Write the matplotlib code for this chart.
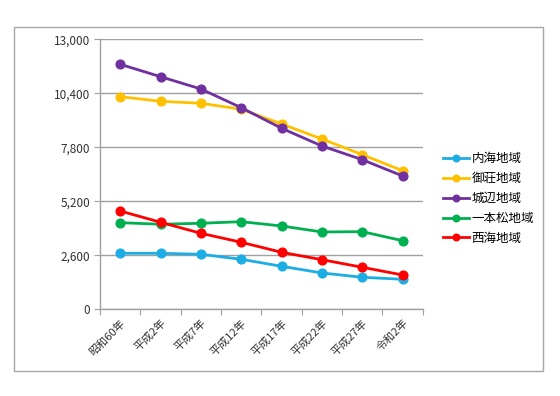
import matplotlib.pyplot as plt
from matplotlib.patches import Rectangle

plt.rcParams['font.family'] = ['Noto Sans CJK JP', 'DejaVu Sans']

# categories (years)
years = ['昭和60年', '平成2年', '平成7年', '平成12年', '平成17年', '平成22年', '平成27年', '令和2年']

# population by district
uchiumi = [2696, 2696, 2648, 2407, 2070, 1748, 1541, 1444]
misho = [10236, 10015, 9919, 9630, 8922, 8200, 7444, 6673]
johen = [11796, 11199, 10607, 9707, 8715, 7863, 7203, 6418]
ipponmatsu = [4170, 4093, 4141, 4218, 4011, 3722, 3737, 3303]
nishiumi = [4733, 4189, 3659, 3226, 2744, 2388, 2022, 1651]

names = ['内海地域', '御荘地域', '城辺地域', '一本松地域', '西海地域']
colors = ['#1CADE4', '#FFC000', '#7030A0', '#00B050', '#FF0000']
yticks = [0, 2600, 5200, 7800, 10400, 13000]

fig = plt.figure(figsize=(5.6, 3.96), dpi=100)
# outer chart frame
fig.patches.append(Rectangle((0.025, 0.063), 0.945, 0.869, transform=fig.transFigure,
                             fill=False, edgecolor='#A6A6A6', linewidth=1.0))

ax = fig.add_axes([0.1786, 0.219, 0.5764, 0.6818])
x = list(range(len(years)))
for vals, name, c in zip([uchiumi, misho, johen, ipponmatsu, nishiumi], names, colors):
    ax.plot(x, vals, color=c, linewidth=2.0, marker='o', markersize=6.3, label=name)

ax.set_xlim(-0.5, len(years) - 0.5)
ax.set_ylim(0, 13000)
ax.set_yticks(yticks)
ax.set_yticklabels([f'{v:,}' for v in yticks], fontsize=8.5, color='#333333')
ax.yaxis.grid(True, color='#A0A0A0', linewidth=1.0)
ax.set_axisbelow(True)

ax.set_xticks([i - 0.5 for i in range(len(years) + 1)])
ax.set_xticklabels([])
ax.set_xticks(x, minor=True)
ax.set_xticklabels(years, minor=True, rotation=45, ha='right', rotation_mode='anchor',
                   fontsize=8, color='#333333')
ax.tick_params(axis='x', which='minor', length=0, pad=6)
ax.tick_params(axis='x', which='major', length=4, color='#A0A0A0')
ax.tick_params(axis='y', length=4, color='#A0A0A0', pad=3)

for s in ['top', 'right']:
    ax.spines[s].set_visible(False)
for s in ['left', 'bottom']:
    ax.spines[s].set_color('#A0A0A0')
    ax.spines[s].set_linewidth(1.0)

fig.legend(loc='upper left', bbox_to_anchor=(0.782, 0.628), frameon=False,
           fontsize=9, handlelength=2.1, labelspacing=0.55, handletextpad=0.2,
           markerscale=0.75, borderaxespad=0)

fig.savefig('out.png', dpi=100)
